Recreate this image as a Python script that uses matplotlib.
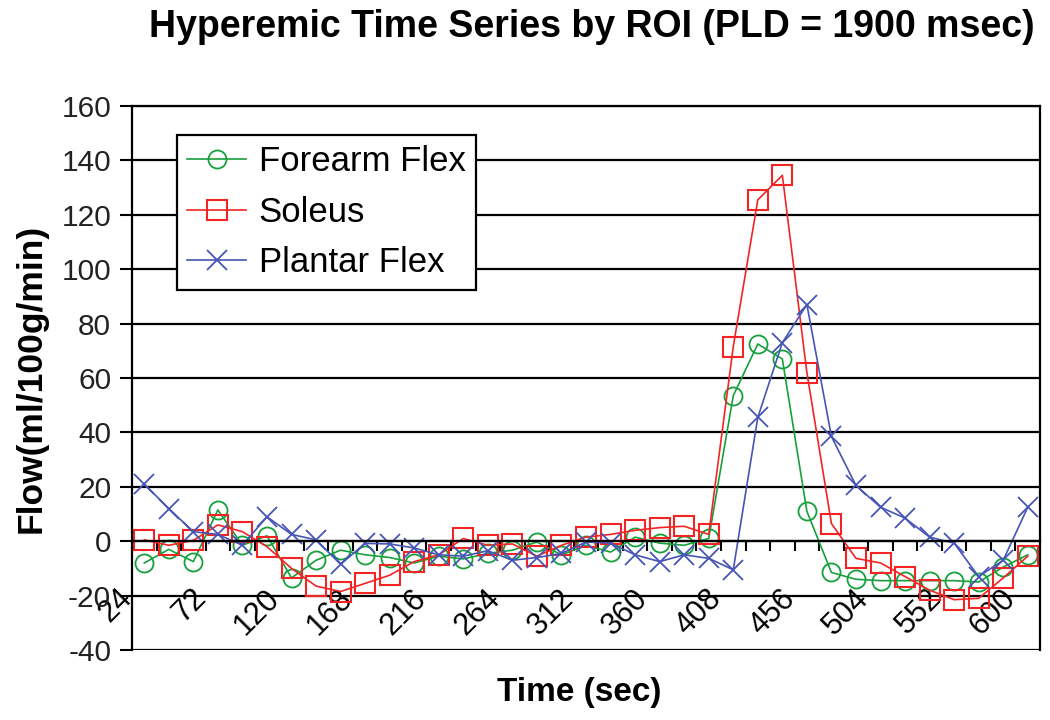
import numpy as np
import matplotlib
matplotlib.use("Agg")
import matplotlib.pyplot as plt
from matplotlib.ticker import FixedLocator

plt.rcParams['font.family'] = ['Liberation Sans', 'DejaVu Sans']
plt.rcParams['axes.unicode_minus'] = False

# Data (category axis, one point every 16 sec)
time_sec = [24, 40, 56, 72, 88, 104, 120, 136, 152, 168, 184, 200, 216, 232,
            248, 264, 280, 296, 312, 328, 344, 360, 376, 392, 408, 424, 440,
            456, 472, 488, 504, 520, 536, 552, 568, 584, 600]

forearm_flex = [-8, -3, -7.5, 11.5, -1.5, 2, -13.5, -7, -3.3, -5, -6, -8, -5.5,
                -6.5, -4.5, -3.3, -0.3, -5, -1.5, -4, 1.5, -0.7, -1.5, 1,
                53.5, 72.5, 67, 11, -11.5, -14, -14.5, -14.5, -14.5, -14.5,
                -15, -9.5, -5]

soleus = [0.5, -1.5, 0.3, 6, 3.5, -2, -10, -16.5, -18.5, -15.5, -12.5, -7.5,
          -5, 1, -1.5, -1, -5.5, -1.5, 1.5, 2.5, 4, 5, 5.5, 2.5,
          71.5, 125.5, 134.5, 62, 6.5, -6.3, -8, -13, -18, -21.5, -21,
          -13.5, -5.5]

plantar_flex = [21, 12, 3.5, 2.5, -1.5, 9, 2.5, 0.5, -8.5, -0.8, -1, -2.5, -5,
                -5.5, -3.5, -7, -6, -4.5, -0.3, -0.7, -5, -7.5, -5, -6.3,
                -10.5, 45.5, 73, 87, 38.5, 20.5, 12.5, 8.5, 1.5, -0.7, -13,
                -7, 12.5]

y_ticks = [-40, -20, 0, 20, 40, 60, 80, 100, 120, 140, 160]

GREEN = '#16a03c'
RED = '#f42424'
BLUE = '#4655b5'

fig = plt.figure(figsize=(10.5, 7.2), dpi=100)
ax = fig.add_axes([0.1257, 0.0972, 0.8648, 0.7556])

idx = np.arange(len(time_sec))

ax.plot(idx, forearm_flex, '-', color=GREEN, lw=1.2, marker='o', ms=13,
        mfc='none', mec=GREEN, mew=1.3, label='Forearm Flex')
ax.plot(idx, soleus, '-', color=RED, lw=1.2, marker='s', ms=14,
        mfc='none', mec=RED, mew=1.5, label='Soleus')
ax.plot(idx, plantar_flex, '-', color=BLUE, lw=1.2, marker='x', ms=15,
        mec=BLUE, mew=1.3, label='Plantar Flex')

ax.set_xlim(-0.5, len(time_sec) - 0.5)
ax.set_ylim(-40, 160)

# y axis
ax.set_yticks(y_ticks)
ax.tick_params(axis='y', direction='out', length=9, width=1.5,
               labelsize=21.5, labelcolor='#222222', pad=6)
ax.yaxis.grid(True, color='black', lw=1.6)
ax.set_axisbelow(True)

# x axis crosses at y = 0 (Excel style)
ax.spines['bottom'].set_position(('data', 0))
for side in ['left', 'right', 'top', 'bottom']:
    ax.spines[side].set_linewidth(1.6)
    ax.spines[side].set_color('black')

# rotated labels: text end sits a little left of the category centre
ax.set_xticks(idx[::3] - 0.45)
ax.set_xticklabels([str(t) for t in time_sec[::3]], rotation=45, ha='right',
                   va='baseline', rotation_mode='anchor', fontsize=22)
ax.xaxis.set_minor_locator(FixedLocator(idx[:-1] + 0.5))
ax.tick_params(axis='x', which='major', length=0, pad=42)
ax.tick_params(axis='x', which='minor', direction='out', length=7, width=1.5)

ax.set_ylabel('Flow(ml/100g/min)', fontsize=25.5, fontweight='bold', labelpad=10)
fig.text(0.552, 0.038, 'Time (sec)', fontsize=24, fontweight='bold',
         ha='center', va='center')
fig.text(0.564, 0.963, 'Hyperemic Time Series by ROI (PLD = 1900 msec)',
         fontsize=27, fontweight='bold', ha='center', va='center')

leg = ax.legend(loc='upper left', bbox_to_anchor=(0.0496, 0.9467),
                borderaxespad=0, fontsize=25, numpoints=1, fancybox=False,
                framealpha=1, edgecolor='black', handlelength=1.7,
                handletextpad=0.35, labelspacing=0.5, borderpad=0.3)
leg.get_frame().set_linewidth(1.6)

fig.savefig('out.png', dpi=100)
